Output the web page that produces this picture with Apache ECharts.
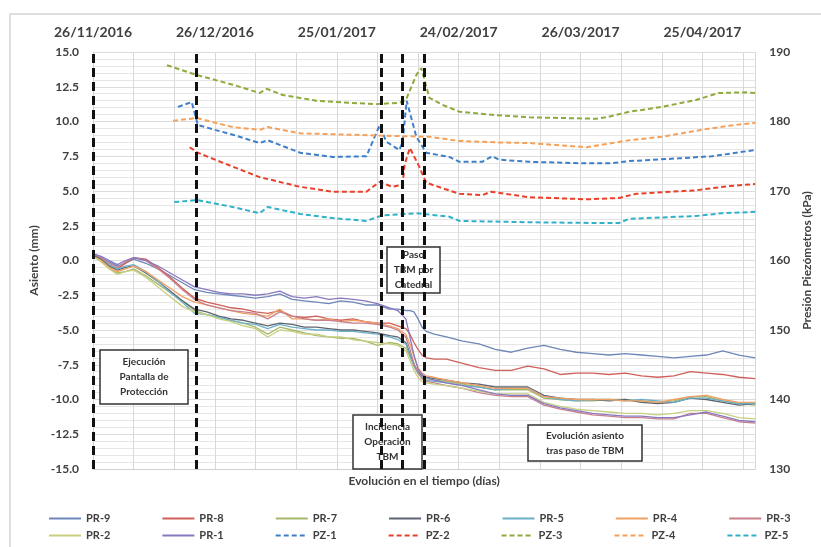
<!DOCTYPE html>
<html><head><meta charset="utf-8">
<script src="https://cdn.jsdelivr.net/npm/echarts@6/dist/echarts.min.js"></script>
<style>html,body{margin:0;padding:0;background:#fff}#c{width:821px;height:547px}</style>
</head><body><div id="c"></div>
<script>
// ---- DATA ----
const dateLabels = ['26/11/2016','26/12/2016','25/01/2017','24/02/2017','26/03/2017','25/04/2017'];
const eventDays = [0, 25.5, 71, 76.2, 81.6];
const prDays = [0,2,4,6,8,10,13,16,19,22,25,28,31,34,37,40,43,46,49,52,55,58,61,64,67,70,73,75,77,78,79,80,81,82,84,87,91,95,99,103,107,111,115,119,123,127,131,135,139,143,147,151,155,159,163];
const PR9 = [0.4,0.2,-0.1,-0.4,-0.2,0.1,-0.2,-0.6,-1.1,-1.6,-2.1,-2.3,-2.4,-2.5,-2.6,-2.7,-2.6,-2.4,-2.8,-2.9,-3.0,-3.1,-2.9,-3.0,-3.2,-3.2,-3.5,-3.5,-3.6,-3.6,-3.7,-4.2,-4.8,-5.1,-5.3,-5.5,-5.8,-6.0,-6.4,-6.6,-6.3,-6.1,-6.4,-6.6,-6.7,-6.8,-6.7,-6.8,-6.9,-7.0,-6.9,-6.8,-6.5,-6.8,-7.0];
const PR8 = [0.4,0.1,-0.4,-0.6,-0.2,0.2,0.1,-0.5,-1.2,-2.0,-2.7,-3.0,-3.2,-3.4,-3.5,-3.7,-3.8,-3.6,-4.0,-4.1,-4.0,-4.2,-4.3,-4.2,-4.4,-4.5,-4.5,-4.7,-4.9,-5.3,-5.9,-6.4,-6.8,-7.0,-7.1,-7.1,-7.4,-7.7,-7.9,-7.9,-7.6,-7.8,-8.2,-8.1,-8.1,-8.2,-8.1,-8.3,-8.4,-8.3,-8.0,-8.1,-8.2,-8.4,-8.5];
const PR7 = [0.3,0.0,-0.6,-0.9,-0.8,-0.6,-1.1,-1.7,-2.3,-2.9,-3.6,-3.9,-4.1,-4.3,-4.5,-4.8,-5.3,-4.8,-5.0,-5.2,-5.4,-5.5,-5.6,-5.6,-5.8,-6.1,-5.9,-6.0,-6.3,-6.9,-7.6,-8.1,-8.4,-8.5,-8.6,-8.7,-8.9,-9.1,-9.3,-9.3,-9.3,-9.9,-10.0,-10.1,-10.1,-10.0,-10.0,-10.1,-10.2,-10.1,-9.8,-9.8,-10.1,-10.3,-10.4];
const PR6 = [0.4,0.1,-0.4,-0.7,-0.5,-0.4,-0.9,-1.5,-2.2,-2.9,-3.5,-3.7,-4.0,-4.2,-4.3,-4.5,-4.7,-4.5,-4.6,-4.8,-4.8,-4.9,-5.0,-5.0,-5.1,-5.2,-5.4,-5.5,-5.9,-6.7,-7.5,-8.0,-8.3,-8.4,-8.5,-8.6,-8.8,-8.9,-9.1,-9.1,-9.1,-9.7,-9.9,-10.0,-10.0,-10.1,-10.0,-10.2,-10.3,-10.2,-9.9,-10.0,-10.2,-10.4,-10.3];
const PR5 = [0.5,0.2,-0.3,-0.6,-0.4,-0.3,-0.8,-1.5,-2.3,-3.0,-3.8,-3.9,-4.1,-4.3,-4.5,-4.6,-4.9,-4.6,-4.8,-4.9,-5.0,-5.0,-5.1,-5.1,-5.2,-5.3,-5.5,-5.7,-6.0,-6.8,-7.6,-8.1,-8.4,-8.6,-8.7,-8.8,-9.0,-9.1,-9.3,-9.2,-9.2,-9.8,-10.0,-10.1,-10.0,-10.0,-10.1,-10.0,-10.1,-10.2,-9.9,-9.9,-10.1,-10.3,-10.3];
const PR4 = [0.3,0.0,-0.5,-0.8,-0.6,-0.4,-0.8,-1.4,-2.0,-2.6,-3.0,-3.2,-3.4,-3.6,-3.8,-3.9,-4.0,-3.5,-4.2,-4.2,-4.3,-4.2,-4.4,-4.3,-4.4,-4.5,-4.7,-4.9,-5.3,-6.0,-6.9,-7.7,-8.1,-8.3,-8.4,-8.6,-8.8,-9.0,-9.2,-9.2,-9.2,-9.8,-9.9,-10.0,-10.0,-10.0,-10.1,-10.1,-10.2,-10.0,-9.8,-9.7,-10.0,-10.2,-10.2];
const PR3 = [0.5,0.2,-0.2,-0.5,-0.1,0.2,0.0,-0.6,-1.3,-2.1,-2.8,-3.2,-3.4,-3.6,-3.7,-3.8,-4.2,-3.7,-4.0,-4.2,-4.3,-4.3,-4.4,-4.5,-4.5,-4.6,-4.8,-5.0,-5.5,-6.4,-7.4,-8.1,-8.5,-8.7,-8.8,-9.0,-9.2,-9.5,-9.7,-9.8,-9.8,-10.4,-10.7,-10.9,-11.1,-11.2,-11.3,-11.3,-11.4,-11.4,-11.0,-11.0,-11.3,-11.6,-11.7];
const PR2 = [0.3,-0.1,-0.6,-1.0,-0.8,-0.7,-1.2,-1.9,-2.6,-3.3,-3.7,-3.9,-4.2,-4.4,-4.7,-4.9,-5.5,-5.0,-5.1,-5.3,-5.3,-5.5,-5.5,-5.7,-5.8,-5.9,-6.0,-6.1,-6.5,-7.2,-7.9,-8.4,-8.7,-8.8,-8.9,-9.0,-9.2,-9.4,-9.6,-9.6,-9.6,-10.2,-10.5,-10.7,-10.8,-10.9,-11.0,-11.0,-11.1,-11.0,-10.8,-10.8,-11.0,-11.3,-11.4];
const PR1 = [0.5,0.3,0.0,-0.3,0.0,0.2,0.0,-0.4,-0.9,-1.4,-1.9,-2.1,-2.3,-2.4,-2.4,-2.5,-2.4,-2.2,-2.6,-2.7,-2.6,-2.8,-2.7,-2.8,-2.9,-3.1,-3.4,-3.6,-4.2,-5.5,-6.8,-7.8,-8.2,-8.4,-8.6,-8.8,-9.0,-9.3,-9.6,-9.7,-9.7,-10.3,-10.6,-10.8,-11.0,-11.1,-11.2,-11.2,-11.3,-11.3,-11.1,-10.9,-11.2,-11.5,-11.6];
// piezometers [day, kPa]
const PZ1 = [[20.9,182.1],[24.3,182.8],[25.8,179.5],[30,178.8],[34.4,178.1],[41,176.9],[43,177.3],[51,175.5],[59,174.9],[67.3,175.0],[70.5,179.4],[72.2,177.1],[75.4,175.9],[76.2,177.0],[77.2,183.0],[79.6,177.8],[82,175.5],[87.7,174.9],[90.2,174.2],[95.8,174.2],[98.3,175.0],[100,174.5],[107.4,174.2],[119.7,174.0],[127.8,174.0],[132,174.3],[144.2,174.7],[152.3,175.0],[163,175.9]];
const PZ2 = [[23.8,176.3],[25.8,175.5],[34.4,173.5],[41,172.0],[51,170.6],[59,169.9],[67.3,169.9],[70.5,171.3],[73.7,170.6],[76.2,170.9],[76.7,173.8],[78,176.2],[80.3,173.5],[82,171.2],[86,170.4],[90.2,169.6],[95.8,169.4],[98,169.9],[107.4,169.1],[122,168.8],[129.5,169.0],[133.7,169.6],[148.4,170.1],[156.5,170.7],[163,171.0]];
const PZ3 = [[18.2,188.1],[25.5,186.7],[34.4,185.3],[41,184.1],[42.8,184.7],[46.7,183.8],[55,183.0],[63,182.7],[69.8,182.5],[75.4,182.7],[77,183.1],[79.6,186.7],[80.8,187.7],[82.8,183.4],[86,182.4],[90.2,181.4],[99.3,180.9],[107.4,180.6],[115.5,180.5],[123.8,180.4],[126.3,180.6],[132,181.4],[140,182.1],[148.4,183.1],[154,184.1],[160.7,184.2],[163,184.1]];
const PZ4 = [[19.7,180.1],[25.5,180.5],[34.4,179.2],[41,178.8],[43,179.2],[51,178.3],[63,178.1],[75.4,177.9],[82.8,177.8],[90.2,177.2],[99.3,177.0],[107.4,176.9],[121.4,176.3],[132,177.3],[140,177.8],[149.8,178.8],[156.5,179.4],[163,179.8]];
const PZ5 = [[20,168.4],[25.5,168.7],[34.4,167.7],[41,166.8],[43,167.7],[51,166.7],[59,166.1],[67.3,165.7],[71.3,166.5],[79.6,166.8],[87.7,166.3],[90.2,165.7],[107.4,165.5],[123.8,165.4],[129.5,165.4],[132,166.0],[148.4,166.4],[154.8,166.8],[163,167.0]];

const prNames = ['PR-9','PR-8','PR-7','PR-6','PR-5','PR-4','PR-3','PR-2','PR-1'];
const prValues = [PR9,PR8,PR7,PR6,PR5,PR4,PR3,PR2,PR1];
const pzNames = ['PZ-1','PZ-2','PZ-3','PZ-4','PZ-5'];
const pzValues = [PZ1,PZ2,PZ3,PZ4,PZ5];
const legendRow1 = ['PR-9','PR-8','PR-7','PR-6','PR-5','PR-4','PR-3'];
const legendRow2 = ['PR-2','PR-1','PZ-1','PZ-2','PZ-3','PZ-4','PZ-5'];

// ---- STYLE ----
const prColors = ['#6d87b8','#d0605a','#a6b86a','#5e6470','#6cb0c8','#f0a064','#c8808c','#c8cf80','#8878c0'];
const pzColors = ['#3f7fc8','#e8402a','#8faa3c','#f5a15a','#2fb1c8'];
const FONT = 'Lato';
const txt = '#404040';

const series = [];
prNames.forEach((n,i)=>{
  series.push({name:n,type:'line',xAxisIndex:0,yAxisIndex:0,symbol:'none',z:2,
    data: prDays.map((d,j)=>[d,prValues[i][j]]),
    lineStyle:{width:1.3,color:prColors[i]},itemStyle:{color:prColors[i]}});
});
pzNames.forEach((n,i)=>{
  series.push({name:n,type:'line',xAxisIndex:0,yAxisIndex:1,symbol:'none',z:2,
    data: pzValues[i],
    lineStyle:{width:2,type:[5,3],color:pzColors[i]},itemStyle:{color:pzColors[i]}});
});
series.push({name:'events',type:'line',xAxisIndex:0,yAxisIndex:0,data:[],z:4,
  markLine:{silent:true,symbol:['none','none'],label:{show:false},
    lineStyle:{color:'#111',width:3,type:[9,5]},
    data: eventDays.map(d=>({xAxis:d}))}});

function box(x,y,w,h,text){
  return [{type:'rect',z:1,shape:{x:x,y:y,width:w,height:h},style:{fill:'#fff',stroke:'#333',lineWidth:1.5}},
          {type:'text',z:1,x:x+w/2,y:y+h/2,style:{text:text,fill:'#333',font:'bold 10px '+FONT,align:'center',verticalAlign:'middle',lineHeight:15}}];
}
function legendRow(names, top){
  return {data:names,left:43,top:top,orient:'horizontal',itemWidth:32,itemHeight:10,itemGap:51,
    itemStyle:{opacity:0},
    textStyle:{fontFamily:FONT,fontWeight:'bold',fontSize:11,color:txt}};
}

const option = {
  backgroundColor:'#fff',
  animation:false,
  grid:{left:93,right:63,top:52,bottom:78,containLabel:false},
  legend:[legendRow(legendRow1,508), legendRow(legendRow2,525)],
  xAxis:[
    {type:'value',position:'top',min:0,max:163,interval:10,
     axisLine:{show:false},axisTick:{show:false},
     axisLabel:{margin:13,fontFamily:FONT,fontWeight:'bold',fontSize:14,color:txt,
       formatter:v=> (v%30===0 && v/30<dateLabels.length) ? dateLabels[v/30] : ''},
     splitLine:{show:true,lineStyle:{color:'#d9d9d9',width:1}}},
    {type:'value',position:'bottom',min:0,max:163,
     axisLine:{show:true,lineStyle:{color:'#d0d0d0'}},axisTick:{show:false},axisLabel:{show:false},splitLine:{show:false},
     name:'Evolución en el tiempo (días)',nameLocation:'middle',nameGap:6,
     nameTextStyle:{fontFamily:FONT,fontWeight:'bold',fontSize:12,color:txt}}
  ],
  yAxis:[
    {type:'value',min:-15,max:15,interval:2.5,position:'left',
     axisLine:{show:false},axisTick:{show:false},
     axisLabel:{margin:14,fontFamily:FONT,fontWeight:'bold',fontSize:12,color:txt,formatter:v=>v.toFixed(1)},
     splitLine:{show:true,lineStyle:{color:'#dcdcdc'}},
     minorTick:{show:true,splitNumber:5,length:0},
     minorSplitLine:{show:true,lineStyle:{color:'#e6e6e6'}},
     name:'Asiento (mm)',nameLocation:'middle',nameGap:53,nameRotate:90,
     nameTextStyle:{fontFamily:FONT,fontWeight:'bold',fontSize:12,color:txt}},
    {type:'value',min:130,max:190,interval:10,position:'right',
     axisLine:{show:true,lineStyle:{color:'#d0d0d0'}},axisTick:{show:false},
     axisLabel:{margin:14,fontFamily:FONT,fontWeight:'bold',fontSize:12,color:txt},
     splitLine:{show:false},
     name:'Presión Piezómetros (kPa)',nameLocation:'middle',nameGap:27,nameRotate:90,
     nameTextStyle:{fontFamily:FONT,fontWeight:'bold',fontSize:12,color:txt}}
  ],
  graphic:[
    {type:'rect',z:0,shape:{x:10,y:14,width:830,height:560},style:{fill:'none',stroke:'#d4d4d4',lineWidth:1.5}}
  ].concat(
    box(100,350,88,54,'Ejecución\nPantalla de\nProtección'),
    box(387,247,53,46,'Paso\nTBM por\nCatedral'),
    box(353,415,69,54,'Incidencia\nOperación\nTBM'),
    box(528,425,114,36,'Evolución asiento\ntras paso de TBM')
  ),
  series: series
};
const chart = echarts.init(document.getElementById('c'),null,{renderer:'canvas'});
chart.setOption(option);
</script></body></html>
